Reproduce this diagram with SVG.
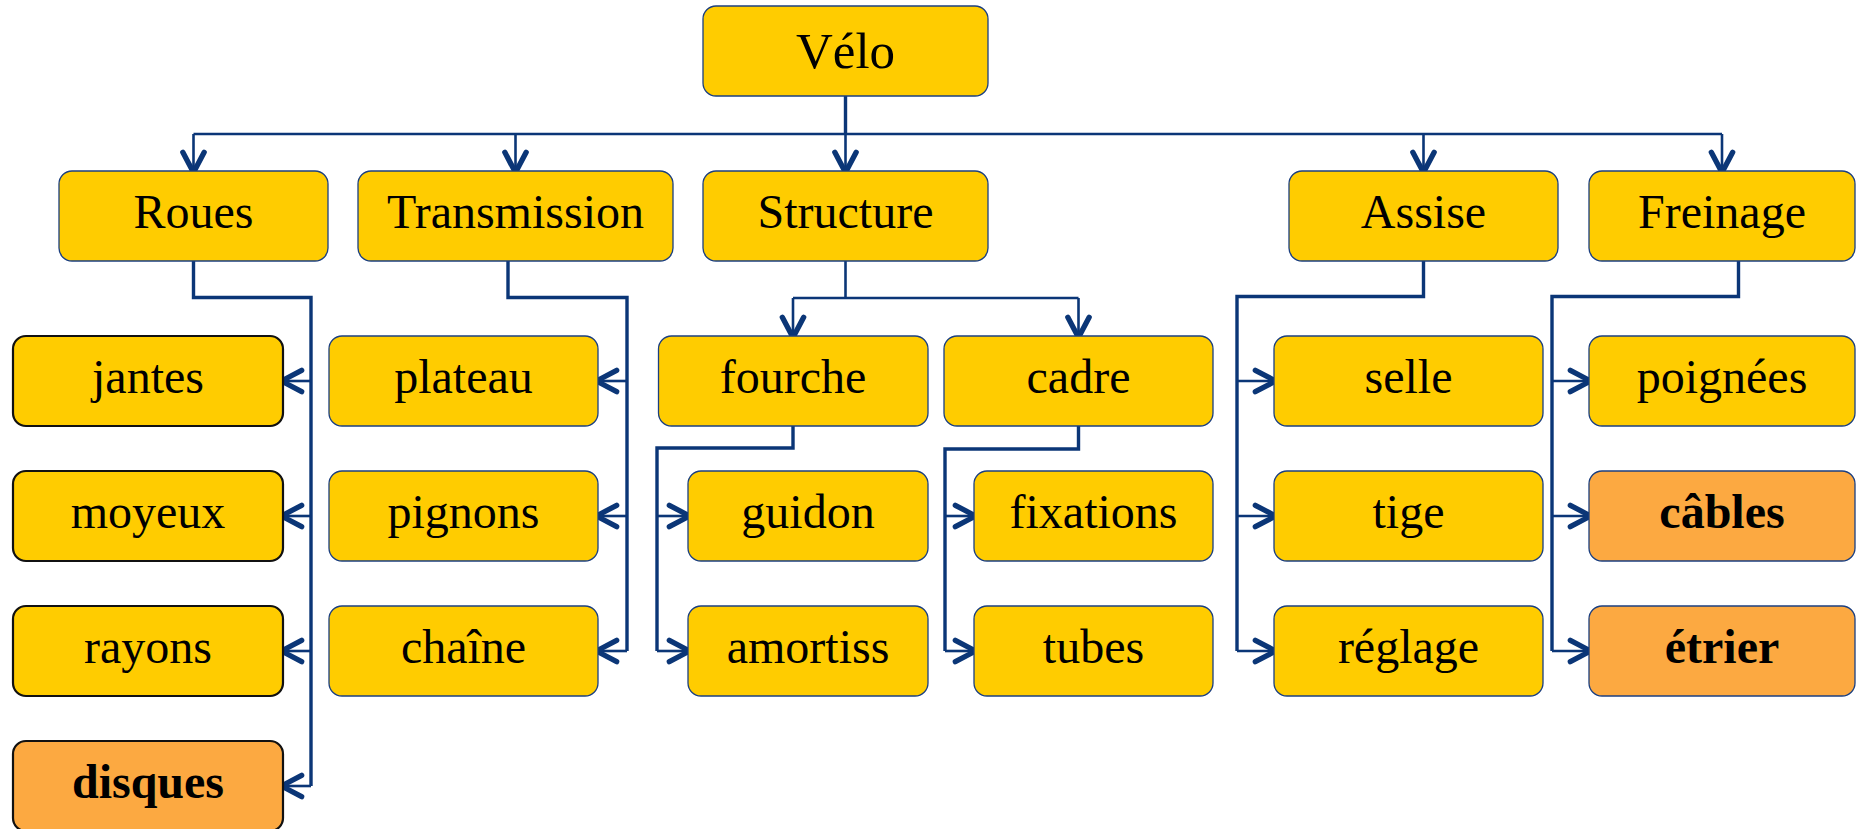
<svg xmlns="http://www.w3.org/2000/svg" width="1856" height="829" viewBox="0 0 1856 829">
  <style>
    .box { fill: #FFCC00; stroke: #1b3f80; stroke-width: 1.3; }
    .box.dark { stroke: #111111; stroke-width: 2.2; }
    .box.hot { fill: #FCA941; }
    .lbl { font-family: "Liberation Serif", "Times New Roman", serif; font-size: 48px; fill: #000; text-anchor: middle; }
    .lbl.root { font-size: 51px; }
    .lbl.b { font-weight: bold; }
    .wire { fill: none; stroke: #0b3677; stroke-width: 2.6; stroke-linejoin: miter; }
    .wire.thick { stroke-width: 3.4; }
    .tip { fill: none; stroke: #0b3677; stroke-width: 2.6; marker-end: url(#chev); }
  </style>
  <defs>
    <marker id="chev" markerUnits="userSpaceOnUse" markerWidth="32" markerHeight="32" viewBox="-25 -15 30 30" refX="-1.5" refY="0" orient="auto">
      <path d="M-19,-10 L0,0 L-19,10" fill="none" stroke="#0b3677" stroke-width="5" stroke-linecap="round" stroke-linejoin="round"/>
    </marker>
  </defs>

  <!-- connectors -->
  <g id="connectors">
    <!-- root bus -->
    <path class="wire thick" d="M845.5 96 V134"/>
    <path class="wire" d="M193.5 134 H1722"/>
    <path class="tip" d="M193.5 134 V171"/>
    <path class="tip" d="M515.5 134 V171"/>
    <path class="tip" d="M845.5 134 V171"/>
    <path class="tip" d="M1423.5 134 V171"/>
    <path class="tip" d="M1722 134 V171"/>

    <!-- Roues -->
    <path class="wire thick" d="M193.5 261 V297.5 H311 V786"/>
    <path class="tip" d="M311 381 H283"/>
    <path class="tip" d="M311 516 H283"/>
    <path class="tip" d="M311 651 H283"/>
    <path class="tip" d="M311 786 H283"/>

    <!-- Transmission -->
    <path class="wire thick" d="M508 261 V297.5 H627 V651"/>
    <path class="tip" d="M627 381 H598"/>
    <path class="tip" d="M627 516 H598"/>
    <path class="tip" d="M627 651 H598"/>

    <!-- Structure -->
    <path class="wire" d="M845.5 261 V298"/>
    <path class="wire" d="M793 298 H1078.5"/>
    <path class="tip" d="M793 298 V336"/>
    <path class="tip" d="M1078.5 298 V336"/>

    <!-- fourche -->
    <path class="wire thick" d="M793 426 V448 H657 V651"/>
    <path class="tip" d="M657 516 H688"/>
    <path class="tip" d="M657 651 H688"/>

    <!-- cadre -->
    <path class="wire thick" d="M1078.5 426 V449 H945 V651"/>
    <path class="tip" d="M945 516 H974"/>
    <path class="tip" d="M945 651 H974"/>

    <!-- Assise -->
    <path class="wire thick" d="M1423.5 261 V296.5 H1237 V651"/>
    <path class="tip" d="M1237 381 H1274"/>
    <path class="tip" d="M1237 516 H1274"/>
    <path class="tip" d="M1237 651 H1274"/>

    <!-- Freinage -->
    <path class="wire thick" d="M1738.5 261 V296.5 H1552 V651"/>
    <path class="tip" d="M1552 381 H1589"/>
    <path class="tip" d="M1552 516 H1589"/>
    <path class="tip" d="M1552 651 H1589"/>
  </g>

  <!-- root -->
  <g id="velo"><rect class="box" x="703" y="6" width="285" height="90" rx="13"/><text class="lbl root" x="845.5" y="68">Vélo</text></g>

  <!-- first level -->
  <g id="roues"><rect class="box" x="59" y="171" width="269" height="90" rx="13"/><text class="lbl" x="193.5" y="228">Roues</text></g>
  <g id="transmission"><rect class="box" x="358" y="171" width="315" height="90" rx="13"/><text class="lbl" x="515.5" y="228">Transmission</text></g>
  <g id="structure"><rect class="box" x="703" y="171" width="285" height="90" rx="13"/><text class="lbl" x="845.5" y="228">Structure</text></g>
  <g id="assise"><rect class="box" x="1289" y="171" width="269" height="90" rx="13"/><text class="lbl" x="1423.5" y="228">Assise</text></g>
  <g id="freinage"><rect class="box" x="1589" y="171" width="266" height="90" rx="13"/><text class="lbl" x="1722" y="228">Freinage</text></g>

  <!-- Roues parts -->
  <g id="jantes"><rect class="box dark" x="13" y="336" width="270" height="90" rx="13"/><text class="lbl" x="148" y="393">jantes</text></g>
  <g id="moyeux"><rect class="box dark" x="13" y="471" width="270" height="90" rx="13"/><text class="lbl" x="148" y="528">moyeux</text></g>
  <g id="rayons"><rect class="box dark" x="13" y="606" width="270" height="90" rx="13"/><text class="lbl" x="148" y="663">rayons</text></g>
  <g id="disques"><rect class="box dark hot" x="13" y="741" width="270" height="90" rx="13"/><text class="lbl b" x="148" y="798">disques</text></g>

  <!-- Transmission parts -->
  <g id="plateau"><rect class="box" x="329" y="336" width="269" height="90" rx="13"/><text class="lbl" x="463.5" y="393">plateau</text></g>
  <g id="pignons"><rect class="box" x="329" y="471" width="269" height="90" rx="13"/><text class="lbl" x="463.5" y="528">pignons</text></g>
  <g id="chaine"><rect class="box" x="329" y="606" width="269" height="90" rx="13"/><text class="lbl" x="463.5" y="663">chaîne</text></g>

  <!-- Structure parts -->
  <g id="fourche"><rect class="box" x="658.5" y="336" width="269.5" height="90" rx="13"/><text class="lbl" x="793" y="393">fourche</text></g>
  <g id="cadre"><rect class="box" x="944" y="336" width="269" height="90" rx="13"/><text class="lbl" x="1078.5" y="393">cadre</text></g>
  <g id="guidon"><rect class="box" x="688" y="471" width="240" height="90" rx="13"/><text class="lbl" x="808" y="528">guidon</text></g>
  <g id="amortiss"><rect class="box" x="688" y="606" width="240" height="90" rx="13"/><text class="lbl" x="808" y="663">amortiss</text></g>
  <g id="fixations"><rect class="box" x="974" y="471" width="239" height="90" rx="13"/><text class="lbl" x="1093.5" y="528">fixations</text></g>
  <g id="tubes"><rect class="box" x="974" y="606" width="239" height="90" rx="13"/><text class="lbl" x="1093.5" y="663">tubes</text></g>

  <!-- Assise parts -->
  <g id="selle"><rect class="box" x="1274" y="336" width="269" height="90" rx="13"/><text class="lbl" x="1408.5" y="393">selle</text></g>
  <g id="tige"><rect class="box" x="1274" y="471" width="269" height="90" rx="13"/><text class="lbl" x="1408.5" y="528">tige</text></g>
  <g id="reglage"><rect class="box" x="1274" y="606" width="269" height="90" rx="13"/><text class="lbl" x="1408.5" y="663">réglage</text></g>

  <!-- Freinage parts -->
  <g id="poignees"><rect class="box" x="1589" y="336" width="266" height="90" rx="13"/><text class="lbl" x="1722" y="393">poignées</text></g>
  <g id="cables"><rect class="box hot" x="1589" y="471" width="266" height="90" rx="13"/><text class="lbl b" x="1722" y="528">câbles</text></g>
  <g id="etrier"><rect class="box hot" x="1589" y="606" width="266" height="90" rx="13"/><text class="lbl b" x="1722" y="663">étrier</text></g>
</svg>
